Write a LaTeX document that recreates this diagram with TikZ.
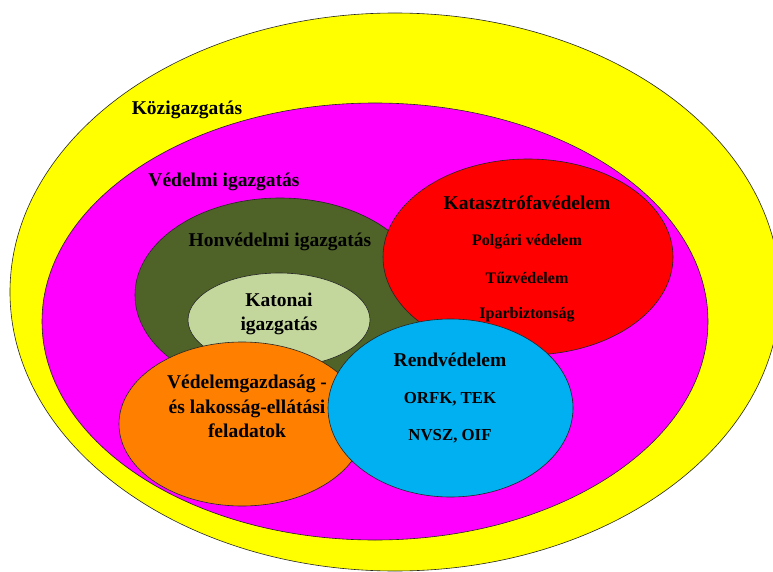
\documentclass[tikz,border=0pt]{standalone}
\usepackage{fontspec}
\setmainfont{Liberation Serif}
\usetikzlibrary{shapes.geometric}
\definecolor{yellowc}{HTML}{FFFF00}
\definecolor{magentac}{HTML}{FF00FF}
\definecolor{redc}{HTML}{FF0000}
\definecolor{olivedark}{HTML}{4F6228}
\definecolor{palegreen}{HTML}{C3D69B}
\definecolor{skyblue}{HTML}{00B0F0}
\definecolor{orangec}{HTML}{FF8000}
\tikzset{
  blob/.style={ellipse, draw=black!85, line width=0.6pt, inner sep=0pt},
  bigtxt/.style={font=\fontsize{19.5}{24.5}\selectfont\bfseries, align=center, inner sep=0pt},
  smalltxt/.style={font=\fontsize{16}{20}\selectfont\bfseries, align=center, inner sep=0pt},
  midtxt/.style={font=\fontsize{16.8}{20}\selectfont\bfseries, align=center, inner sep=0pt},
}
\begin{document}
\begin{tikzpicture}[x=1pt,y=-1pt]
\useasboundingbox (0,0) rectangle (773,572);
\fill[white] (0,0) rectangle (773,572);
% outer sets
\node[blob, fill=yellowc, minimum width=770pt, minimum height=558pt] (koz) at (395,292) {};
\node[bigtxt] (kozt) at (187,110) {Közigazgatás};
\node[blob, fill=magentac, minimum width=666pt, minimum height=437pt] (ved) at (375,321.5) {};
\node[bigtxt] (vedt) at (224,182) {Védelmi igazgatás};
% Honvédelmi
\node[blob, fill=olivedark, minimum width=290pt, minimum height=194pt] (honv) at (280,295) {};
\node[bigtxt] (honvt) at (280,242) {Honvédelmi igazgatás};
\node[blob, fill=palegreen, minimum width=182pt, minimum height=94pt] (kat) at (279,320) {};
\node[bigtxt] (katt) at (279,314) {Katonai\\igazgatás};
% Katasztrófavédelem
\node[blob, fill=redc, minimum width=290pt, minimum height=196pt] (kata) at (528,257) {};
\node[bigtxt] (katat) at (527,203) {Katasztrófavédelem};
\node[smalltxt] (polg) at (527,242) {Polgári védelem};
\node[smalltxt] (tuz) at (527,278) {Tűzvédelem};
\node[smalltxt] (ipar) at (527,315) {Iparbiztonság};
% Védelemgazdaság
\node[blob, fill=orangec, minimum width=246pt, minimum height=164pt] (vg) at (242,424) {};
\node[bigtxt] (vgt) at (247,406.5) {Védelemgazdaság -\\és lakosság-ellátási\\feladatok};
% Rendvédelem
\node[blob, fill=skyblue, minimum width=245pt, minimum height=178pt] (rend) at (450.5,408) {};
\node[bigtxt] (rendt) at (450,360) {Rendvédelem};
\node[midtxt] (orfk) at (450,399) {ORFK, TEK};
\node[midtxt] (nvsz) at (450,436) {NVSZ, OIF};
\end{tikzpicture}
\end{document}
